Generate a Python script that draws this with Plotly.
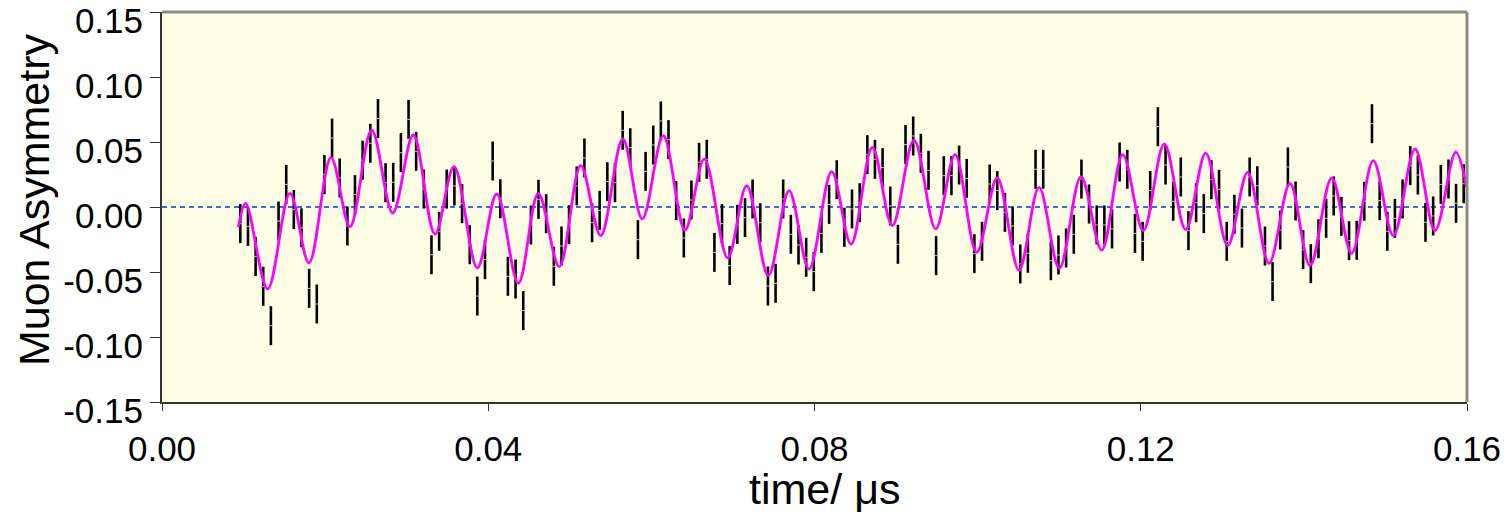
import plotly.graph_objects as go

# ---------------- data ----------------
time_us = [0.0096, 0.01054, 0.01148, 0.01241, 0.01335, 0.01429, 0.01523, 0.01616, 0.0171, 0.01804,
           0.01898, 0.01991, 0.02085, 0.02179, 0.02273, 0.02366, 0.0246, 0.02554, 0.02648, 0.02741,
           0.02835, 0.02929, 0.03023, 0.03116, 0.0321, 0.03304, 0.03398, 0.03491, 0.03585, 0.03679,
           0.03773, 0.03866, 0.0396, 0.04054, 0.04148, 0.04241, 0.04335, 0.04429, 0.04523, 0.04616,
           0.0471, 0.04804, 0.04898, 0.04991, 0.05085, 0.05179, 0.05273, 0.05366, 0.0546, 0.05554,
           0.05648, 0.05741, 0.05835, 0.05929, 0.06023, 0.06116, 0.0621, 0.06304, 0.06398, 0.06491,
           0.06585, 0.06679, 0.06773, 0.06866, 0.0696, 0.07054, 0.07148, 0.07241, 0.07335, 0.07429,
           0.07523, 0.07616, 0.0771, 0.07804, 0.07898, 0.07991, 0.08085, 0.08179, 0.08273, 0.08366,
           0.0846, 0.08554, 0.08648, 0.08741, 0.08835, 0.08929, 0.09023, 0.09116, 0.0921, 0.09304,
           0.09398, 0.09491, 0.09585, 0.09679, 0.09773, 0.09866, 0.0996, 0.10054, 0.10148, 0.10241,
           0.10335, 0.10429, 0.10523, 0.10616, 0.1071, 0.10804, 0.10898, 0.10991, 0.11085, 0.11179,
           0.11273, 0.11366, 0.1146, 0.11554, 0.11648, 0.11741, 0.11835, 0.11929, 0.12023, 0.12116,
           0.1221, 0.12304, 0.12398, 0.12491, 0.12585, 0.12679, 0.12773, 0.12866, 0.1296, 0.13054,
           0.13148, 0.13241, 0.13335, 0.13429, 0.13523, 0.13616, 0.1371, 0.13804, 0.13898, 0.13991,
           0.14085, 0.14179, 0.14273, 0.14366, 0.1446, 0.14554, 0.14648, 0.14741, 0.14835, 0.14929,
           0.15023, 0.15116, 0.1521, 0.15304, 0.15398, 0.15491, 0.15585, 0.15679, 0.15773, 0.15866,
           0.1596]

asymmetry = [-0.0128, -0.0149, -0.038, -0.061, -0.0913, -0.0108, 0.0174, -0.002, -0.016, -0.0626,
             -0.0746, 0.0249, 0.053, 0.0223, -0.0146, 0.0095, 0.036, 0.049, 0.068, 0.0187,
             0.019, 0.0418, 0.0674, 0.0428, 0.0138, -0.0367, -0.0187,
             0.0138, 0.0162, 0.0026, -0.029, -0.0685, -0.0405, 0.0354, 0.0064, -0.0533, -0.0554,
             -0.0797, -0.0138, 0.0059, -0.0051, -0.0456, -0.030, -0.0136, 0.0162, 0.0377, -0.0121,
             -0.0026, 0.0195, 0.0187, 0.059, 0.0456, -0.0251, 0.0274,
             0.0477, 0.0662, 0.0518, 0.0049, -0.0238, 0.0054, 0.0344, 0.0367, -0.0349, -0.0128,
             -0.0451, -0.0133, -0.0082, 0.0062, -0.0121, -0.0608, -0.0587, 0.0062, -0.021, -0.0292,
             -0.0387, -0.0497, -0.0203, 0.002, 0.021, -0.0156,
             -0.0015, 0.0033, 0.0403, 0.0367, 0.0303, 0.0008, -0.0287, 0.048, 0.0546, 0.0413,
             0.0282, -0.0374, 0.0241, 0.0241, 0.0323, 0.022, -0.0359, -0.0264, 0.0177, 0.0126,
             -0.0041, -0.0146, -0.0438, -0.0356, 0.029, 0.029, -0.0413,
             -0.0369, -0.0315, -0.021, 0.0215, 0.0023, -0.0138, -0.0138, -0.0169, 0.0346, 0.029,
             -0.0203, -0.0264, 0.0126, 0.0618, 0.0323, 0.0044, 0.0231, -0.0182, 0.0033, -0.0051,
             0.021, 0.0136, -0.0264, -0.0056, -0.0162, 0.0231, 0.0164,
             -0.030, -0.0574, -0.0177, 0.0308, 0.0046, -0.0328, -0.0436, -0.0244, -0.0087, 0.0085,
             -0.0072, -0.0259, -0.0256, 0.0044, 0.0641, 0.0049, -0.0187, -0.0087, 0.0062, 0.0318,
             0.0246, -0.0118, -0.0069, 0.0174, 0.0215, 0.0028, 0.0179]

asymmetry_error = 0.015

fit_time = [0.00936, 0.01026, 0.01296, 0.01569, 0.01802, 0.02072, 0.02305, 0.02571, 0.02829, 0.03081,
            0.03347, 0.0358, 0.03866, 0.04104, 0.04369, 0.04614, 0.04871, 0.05134, 0.05379, 0.05649,
            0.05889, 0.06146, 0.06412, 0.06649, 0.06936, 0.07169, 0.07434, 0.07688, 0.07933, 0.08211,
            0.08448, 0.08709, 0.08954, 0.0922, 0.09486, 0.09723, 0.09989, 0.10241, 0.10507, 0.10753,
            0.11002, 0.11268, 0.11521, 0.11779, 0.12031, 0.12289, 0.12551, 0.12797, 0.13066, 0.13311,
            0.13573, 0.1383, 0.14075, 0.14341, 0.14586, 0.14851, 0.15097, 0.15363, 0.15608, 0.15862,
            0.15996]
fit_value = [-0.0156, 0.0028, -0.063, 0.0105, -0.043, 0.038, -0.0151, 0.0592, -0.0046, 0.0554,
             -0.0208, 0.031, -0.0469, 0.010, -0.0587, 0.0105, -0.0459, 0.0318, -0.022, 0.0523,
             -0.0092, 0.0549, -0.0177, 0.0369, -0.0392, 0.0164, -0.0528, 0.0126, -0.0477, 0.0272,
             -0.0285, 0.0459, -0.0144, 0.0515, -0.0169, 0.0403, -0.0349, 0.0223, -0.0485, 0.0151,
             -0.0472, 0.0233, -0.0331, 0.0403, -0.0182, 0.0485, -0.0174, 0.0415, -0.0297, 0.0267,
             -0.0433, 0.0182, -0.0451, 0.0223, -0.0356, 0.0356, -0.022, 0.0446, -0.0182, 0.0421,
             0.0151]

x_tick_values = [0.00, 0.04, 0.08, 0.12, 0.16]
x_tick_labels = ["0.00", "0.04", "0.08", "0.12", "0.16"]
y_tick_values = [-0.15, -0.10, -0.05, 0.00, 0.05, 0.10, 0.15]
y_tick_labels = ["-0.15", "-0.10", "-0.05", "0.00", "0.05", "0.10", "0.15"]

x_title = "time/ μs"
y_title = "Muon Asymmetry"

# ---------------- figure ----------------
FONT = "Liberation Sans, Arial, Helvetica, sans-serif"

fig = go.Figure()

fig.add_trace(go.Scatter(
    x=time_us, y=asymmetry, mode="markers",
    marker=dict(symbol="line-ew", size=3, color="#c8c8c8", line=dict(width=1, color="#c8c8c8")),
    error_y=dict(type="constant", value=asymmetry_error, color="black", thickness=2.6, width=0),
    showlegend=False, hoverinfo="skip",
))

fig.add_trace(go.Scatter(
    x=fit_time, y=fit_value, mode="lines",
    line=dict(color="#FF00FF", width=2.8, shape="spline", smoothing=1.0),
    showlegend=False, hoverinfo="skip",
))

# dashed zero reference line
fig.add_shape(type="line", xref="paper", x0=0, x1=1, yref="y", y0=0, y1=0,
              line=dict(color="#2F6FEF", width=2, dash="5px,4px"), layer="below")
# top and right frame (gray)
fig.add_shape(type="line", xref="paper", yref="paper", x0=0, x1=1, y0=1, y1=1,
              line=dict(color="#8a8a8a", width=3))
fig.add_shape(type="line", xref="paper", yref="paper", x0=1, x1=1, y0=0, y1=1,
              line=dict(color="#8a8a8a", width=3))

# axis titles
fig.add_annotation(text=x_title, xref="paper", yref="paper", x=0.508, y=-0.222,
                   xanchor="center", yanchor="middle", showarrow=False,
                   font=dict(size=43, family=FONT, color="black"))
fig.add_annotation(text=y_title, xref="paper", yref="paper", x=-0.098, y=0.518,
                   xanchor="center", yanchor="middle", showarrow=False, textangle=-90,
                   font=dict(size=43, family=FONT, color="black"))

fig.update_layout(
    width=1510, height=515,
    margin=dict(l=162, r=43, t=12, b=113, autoexpand=False),
    paper_bgcolor="white",
    plot_bgcolor="#FFFFE6",
    font=dict(family=FONT, color="black"),
    xaxis=dict(
        range=[0, 0.16], tickvals=x_tick_values, ticktext=x_tick_labels,
        ticks="outside", ticklen=7, tickwidth=1, tickcolor="#333",
        showline=True, linecolor="#333", linewidth=2, automargin=False,
        showgrid=False, zeroline=False, ticklabelstandoff=8,
        tickfont=dict(size=35, family=FONT),
    ),
    xaxis2=dict(
        range=[0, 0.16], overlaying="x", anchor="y", side="bottom",
        tickmode="linear", tick0=0, dtick=0.02,
        ticks="inside", ticklen=7, tickwidth=1, tickcolor="#333",
        showticklabels=False, showgrid=False, zeroline=False, showline=False,
    ),
    yaxis=dict(
        range=[-0.15, 0.15], tickvals=y_tick_values, ticktext=y_tick_labels,
        ticks="outside", ticklen=10, tickwidth=1, tickcolor="#333",
        showline=True, linecolor="#333", linewidth=2, automargin=False,
        showgrid=False, zeroline=False,
        ticklabeloverflow="allow", ticklabelshift=9,
        tickfont=dict(size=35, family=FONT),
    ),
)

fig.write_html("out.html")
